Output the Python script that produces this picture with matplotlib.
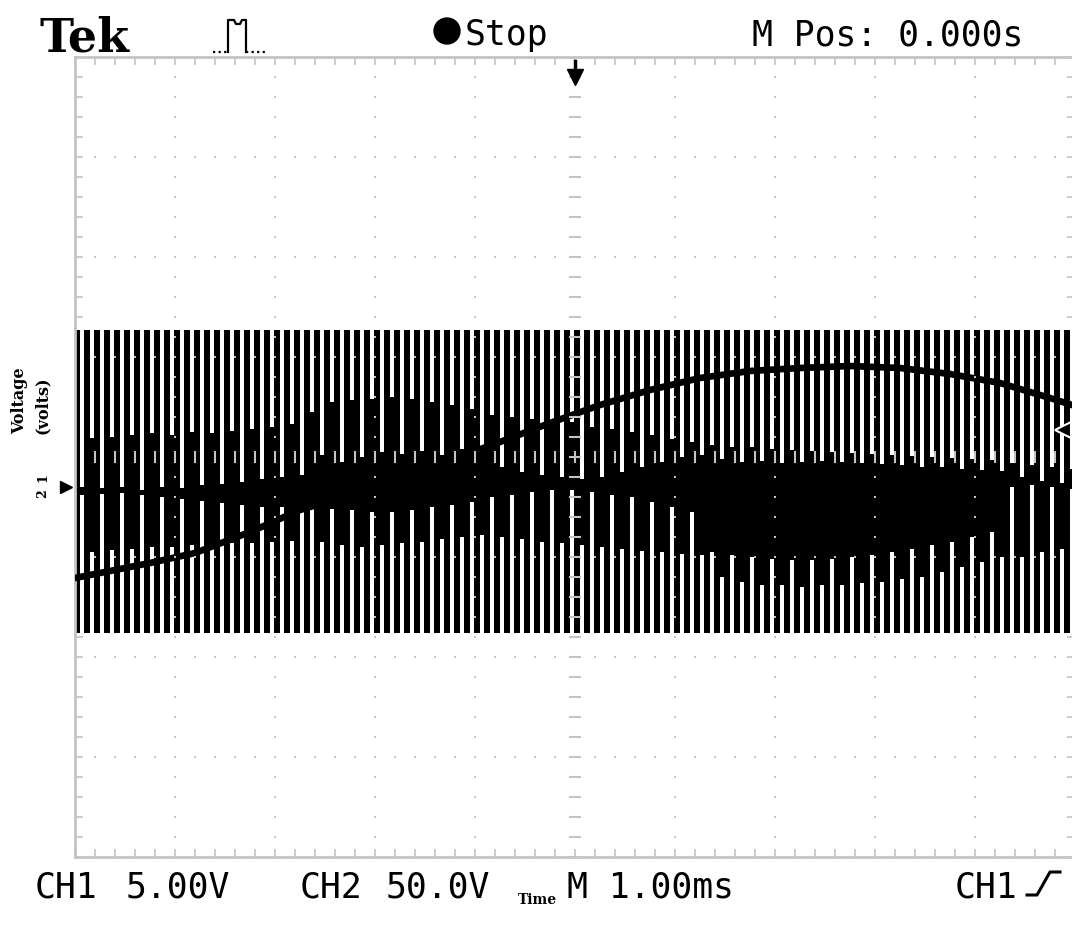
import numpy as np
import matplotlib.pyplot as plt
from matplotlib.lines import Line2D
from matplotlib.patches import Circle

W, H = 1072, 926

# time axis in ms (1.00 ms/div, M Pos 0.000 s at screen centre)
# vertical axis in screen divisions, 0 = centre graticule line

# CH1 slow trace
ch1_t = [-5.0, -4.75, -4.25, -3.8, -3.25, -2.75, -2.25, -1.75, -1.25, -0.75, -0.25,
         0.25, 0.75, 1.25, 1.75, 2.25, 2.75, 3.25, 3.75, 4.25, 4.75, 4.97]
ch1_v = [-1.21, -1.16, -1.06, -0.96, -0.75, -0.53, -0.38, -0.21, -0.03, 0.15, 0.34,
         0.52, 0.67, 0.79, 0.86, 0.89, 0.91, 0.89, 0.83, 0.74, 0.59, 0.52]

# CH2 PWM: switching levels and the white gap in each 0.1 ms carrier period
pwm_high = 1.27
pwm_low = -1.76
gap_top_end = [
    -0.30, 0.19, -0.31, 0.20, -0.30, 0.22, -0.33, 0.24, -0.30, 0.22, -0.31, 0.25,
    -0.28, 0.24, -0.27, 0.26, -0.25, 0.28, -0.22, 0.30, -0.20, 0.33, -0.18,
    0.45, 0.02, 0.55, -0.05, 0.57, 0.00, 0.58, 0.05, 0.60, 0.03, 0.58, 0.06,
    0.55, 0.02, 0.52, 0.08, 0.48, 0.10,
    0.42, -0.10, 0.40, -0.15, 0.38, -0.18, 0.36, -0.20, 0.35, -0.22, 0.30,
    -0.20, 0.28, -0.15, 0.25, -0.10, 0.22, -0.05, 0.18, 0.00, 0.15, 0.02,
    0.12, -0.02, 0.10, -0.05, 0.10, -0.04, 0.08, -0.06, 0.07, -0.05, 0.06,
    -0.04, 0.05, -0.05, 0.04, -0.06, 0.03, -0.07, 0.02, -0.08, 0.01, -0.10,
    0.00, -0.10, -0.01, -0.12, -0.02, -0.13, -0.03, -0.14,
    -0.06, -0.20, -0.08, -0.24, -0.10, -0.26, -0.12,
]
gap_bot_start = [
    -0.38, -0.95, -0.37, -0.93, -0.36, -0.92, -0.38, -0.90, -0.40, -0.90, -0.42,
    -0.88, -0.44, -0.88, -0.46, -0.86, -0.48, -0.86, -0.50, -0.85, -0.50, -0.84,
    -0.52,
    -0.50, -0.85, -0.52, -0.88, -0.53, -0.90, -0.55, -0.88, -0.55, -0.86, -0.53,
    -0.85, -0.50, -0.82, -0.48, -0.80, -0.45, -0.78,
    -0.40, -0.80, -0.38, -0.82, -0.35, -0.85, -0.33, -0.86, -0.33, -0.88, -0.35,
    -0.90, -0.38, -0.92, -0.40, -0.94, -0.45, -0.95, -0.50, -0.97, -0.55, -0.98,
    -0.95, -1.20, -0.98, -1.25, -1.00, -1.28, -1.02, -1.28, -1.03, -1.30, -1.03,
    -1.28, -1.02, -1.28, -1.00, -1.26, -0.98, -1.25, -0.95, -1.22, -0.92, -1.20,
    -0.88, -1.15, -0.85, -1.10, -0.80, -1.05, -0.75, -1.00,
    -0.30, -1.00, -0.28, -0.95, -0.30, -0.92, -0.32,
]
carrier_period = 0.1
gap_t = -5 + 0.07 + carrier_period * np.arange(len(gap_top_end))

GRID = '#c4c4c4'
SCOPE_FONT = 'DejaVu Sans Mono'


def fx(x):
    return x / W


def fy(y):
    return 1 - y / H


def fig_line(xs, ys, **kw):
    fig.add_artist(Line2D([fx(x) for x in xs], [fy(y) for y in ys],
                          transform=fig.transFigure, **kw))


fig = plt.figure(figsize=(W / 100, H / 100), dpi=100)
fig.patch.set_facecolor('white')
ax = fig.add_axes([fx(75), fy(857), 1000 / W, 800 / H])
ax.set_xlim(-5, 5)
ax.set_ylim(-4, 4)

# CH2 trace
ax.fill_between([-5, 5], pwm_low, pwm_high, color='black', lw=0, zorder=2)
top_end = np.array(gap_top_end)
bot_start = np.array(gap_bot_start)
ax.bar(gap_t, pwm_high + 0.02 - top_end, bottom=top_end, width=0.035,
       color='white', lw=0, zorder=3)
ax.bar(gap_t, bot_start - pwm_low + 0.02, bottom=pwm_low - 0.02, width=0.035,
       color='white', lw=0, zorder=3)

# CH1 trace
ax.plot(ch1_t, ch1_v, color='black', lw=4.8, zorder=4)

# graticule
minor = np.arange(-5, 5.01, 0.2)
vminor = np.arange(-4, 4.01, 0.2)
for t in range(-4, 5):
    ax.plot(np.full(len(vminor), t), vminor, ls='none', marker='s', ms=2,
            color=GRID, mew=0, zorder=5)
for v in range(-3, 4):
    ax.plot(minor, np.full(len(minor), v), ls='none', marker='s', ms=2,
            color=GRID, mew=0, zorder=5)
ax.plot(np.zeros(len(vminor)), vminor, ls='none', marker='_', ms=8, mew=1.5,
        color=GRID, zorder=5)
ax.plot(minor, np.zeros(len(minor)), ls='none', marker='|', ms=8, mew=1.5,
        color=GRID, zorder=5)

ax.set_xticks(np.arange(-5, 5.01, 1))
ax.set_xticks(minor, minor=True)
ax.set_yticks(np.arange(-4, 4.01, 1))
ax.set_yticks(vminor, minor=True)
ax.tick_params(which='both', direction='in', length=6, width=1.2, color=GRID,
               top=True, right=True, labelbottom=False, labelleft=False)
for s in ax.spines.values():
    s.set_color(GRID)
    s.set_linewidth(2)

# trigger position arrow and trigger level marker
ax.plot([0, 0], [3.96, 3.80], color='black', lw=2.5, clip_on=False, zorder=6)
ax.plot([0], [3.80], marker='v', ms=11, color='black', clip_on=False, zorder=6)
ax.plot([4.88], [0.27], marker='<', ms=12, color='black', mec='white', mew=1.5,
        clip_on=False, zorder=6)

# header
fig.text(fx(40), fy(52), 'Tek', family='DejaVu Serif', weight='bold',
         fontsize=33, va='baseline')
fig_line([213, 228], [52, 52], color='black', lw=1.6, ls=(0, (1, 1.5)))
fig_line([228, 228, 234, 236, 240, 242, 246, 246],
         [52, 20, 20, 24, 24, 20, 20, 52], color='black', lw=1.6)
fig_line([246, 266], [52, 52], color='black', lw=1.6, ls=(0, (1, 1.5)))
fig.add_artist(Circle((447 / 100, (H - 31) / 100), 0.13,
                      transform=fig.dpi_scale_trans, color='black'))
fig.text(fx(465), fy(45), 'Stop', family=SCOPE_FONT, fontsize=25, va='baseline')
fig.text(fx(752), fy(45), 'M Pos: 0.000s', family=SCOPE_FONT, fontsize=25,
         va='baseline')

# footer
fig.text(fx(35), fy(897), 'CH1', family=SCOPE_FONT, fontsize=25, va='baseline')
fig.text(fx(126), fy(897), '5.00V', family=SCOPE_FONT, fontsize=25,
         va='baseline')
fig.text(fx(300), fy(897), 'CH2', family=SCOPE_FONT, fontsize=25, va='baseline')
fig.text(fx(386), fy(897), '50.0V', family=SCOPE_FONT, fontsize=25,
         va='baseline')
fig.text(fx(567), fy(897), 'M 1.00ms', family=SCOPE_FONT, fontsize=25,
         va='baseline')
fig.text(fx(955), fy(897), 'CH1', family=SCOPE_FONT, fontsize=25, va='baseline')
fig_line([1027, 1037, 1050, 1060], [895, 895, 872, 872], color='black', lw=2.2)

# channel ground markers
fig.text(fx(43), fy(478), '1', family='DejaVu Serif', weight='bold', fontsize=9,
         rotation=90, ha='center', va='center')
fig.text(fx(43), fy(494), '2', family='DejaVu Serif', weight='bold', fontsize=9,
         rotation=90, ha='center', va='center')
fig_line([66], [487], marker='>', ms=9, color='black')

# axis titles
fig.text(fx(20), fy(401), 'Voltage', family='DejaVu Serif', weight='bold',
         fontsize=11.5, rotation=90, ha='center', va='center')
fig.text(fx(42), fy(405), '(volts)', family='DejaVu Serif', weight='bold',
         fontsize=11.5, rotation=90, ha='center', va='center')
fig.text(fx(537), fy(900), 'Time', family='DejaVu Serif', weight='bold',
         fontsize=10, ha='center', va='center')

fig.savefig('out.png', dpi=100)
